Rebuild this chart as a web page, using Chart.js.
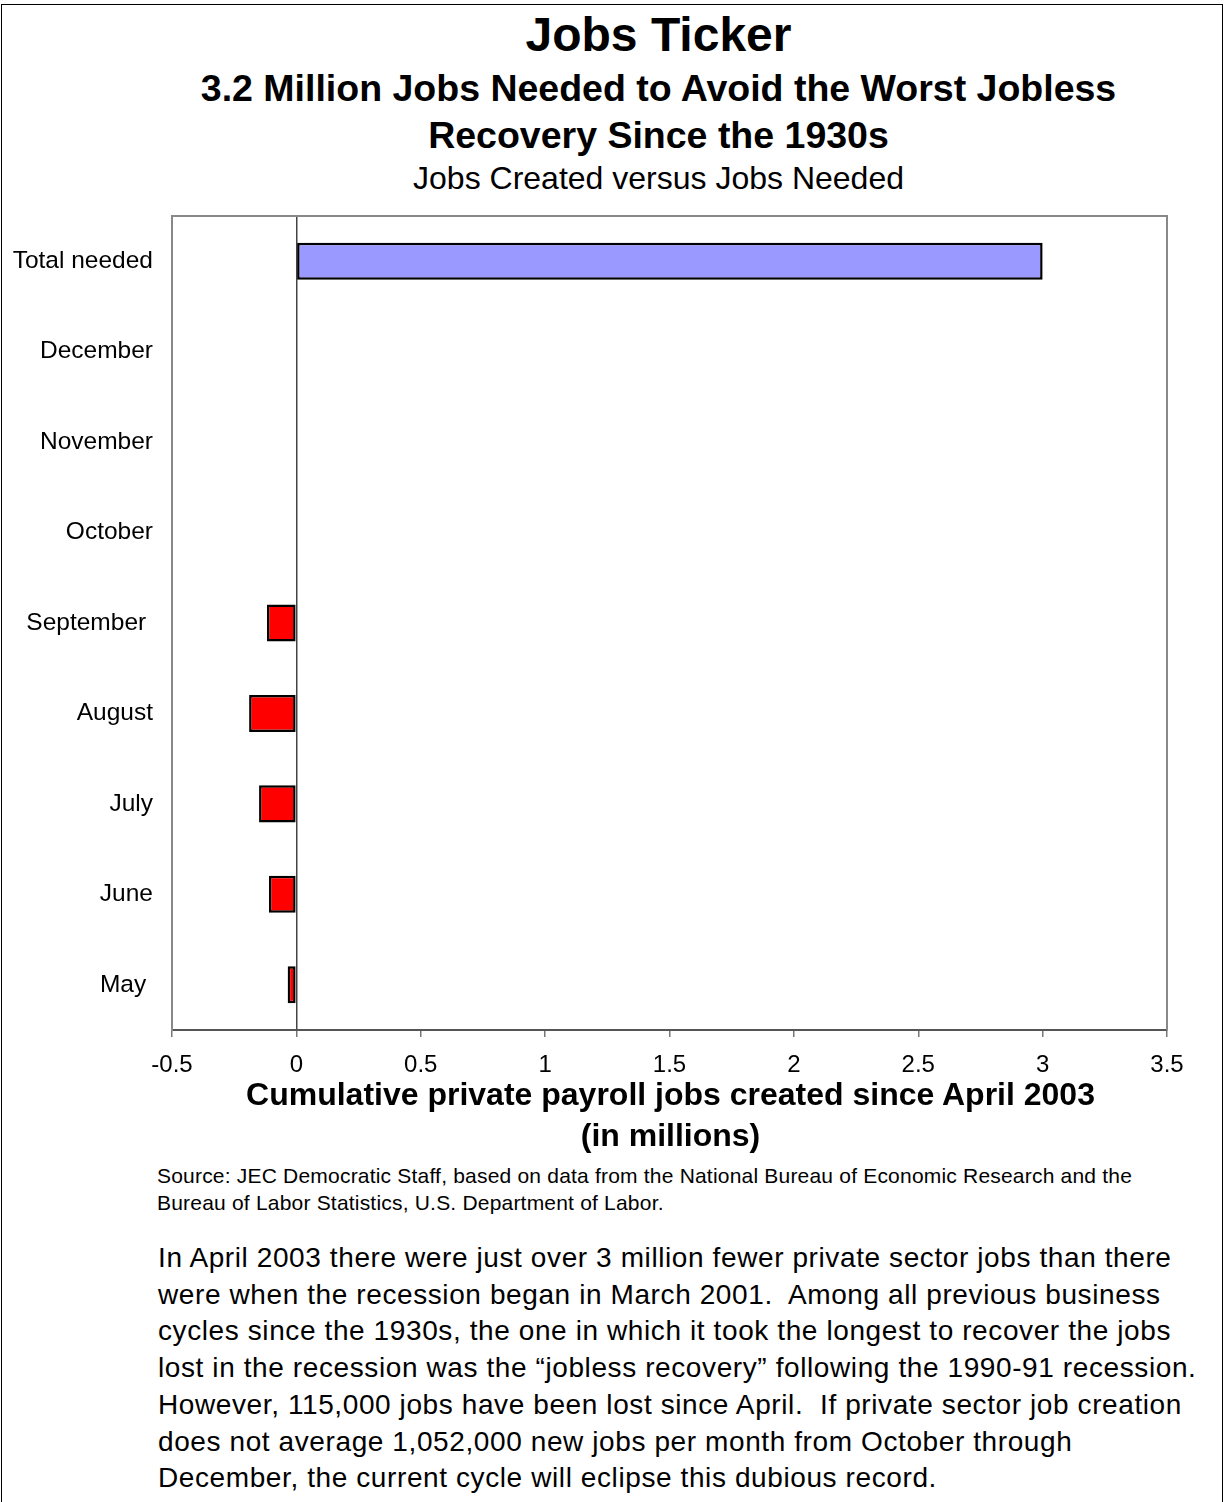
<!DOCTYPE html>
<html>
<head>
<meta charset="utf-8">
<script src="https://cdn.jsdelivr.net/npm/chart.js@4"></script>
<style>
body{margin:0;width:1225px;height:1502px;overflow:hidden;background:#fff;font-family:"Liberation Sans",Arial,sans-serif;color:#000;position:relative}
#frame{position:absolute;left:1px;top:4px;width:1222px;height:1520px;border:1px solid #000;box-sizing:border-box}
.t{position:absolute;left:0;width:1225px;text-align:center;white-space:nowrap}
#title{top:10px;font-size:48px;line-height:50px;font-weight:bold;left:46px;width:1225px}
#sub{top:65px;font-size:37.5px;line-height:47px;font-weight:bold;left:46px}
#sub2{top:158px;font-size:32px;line-height:40px;left:46px}
#xtitle{top:1074px;font-size:32px;line-height:41px;font-weight:bold;left:58px}
#source{position:absolute;left:157px;top:1162px;font-size:21px;line-height:27px;letter-spacing:0.2px;white-space:nowrap}
#para{position:absolute;left:158px;top:1240px;font-size:28px;line-height:36.7px;letter-spacing:0.6px;white-space:nowrap}
#chart{position:absolute;left:0;top:200px}
</style>
</head>
<body>
<div id="frame"></div>
<div class="t" id="title">Jobs Ticker</div>
<div class="t" id="sub">3.2 Million Jobs Needed to Avoid the Worst Jobless<br>Recovery Since the 1930s</div>
<div class="t" id="sub2">Jobs Created versus Jobs Needed</div>
<canvas id="chart" width="1225" height="880"></canvas>
<div class="t" id="xtitle">Cumulative private payroll jobs created since April 2003<br>(in millions)</div>
<div id="source">Source: JEC Democratic Staff, based on data from the National Bureau of Economic Research and the<br>Bureau of Labor Statistics, U.S. Department of Labor.</div>
<div id="para">In April 2003 there were just over 3 million fewer private sector jobs than there<br>were when the recession began in March 2001.&nbsp; Among all previous business<br>cycles since the 1930s, the one in which it took the longest to recover the jobs<br>lost in the recession was the “jobless recovery” following the 1990-91 recession.<br>However, 115,000 jobs have been lost since April.&nbsp; If private sector job creation<br>does not average 1,052,000 new jobs per month from October through<br>December, the current cycle will eclipse this dubious record.</div>
<script>
// categories top to bottom
const categories=["Total needed","December","November","October","September ","August","July","June","May "];
// millions of jobs
const totalNeeded=[3.0,null,null,null,null,null,null,null,null];
const jobsCreated=[null,null,null,null,-0.118,-0.19,-0.15,-0.11,-0.035];
const xTicks=[-0.5,0,0.5,1,1.5,2,2.5,3,3.5];

const plotBorder={
id:"plotBorder",
afterDraw(chart){
let a=chart.chartArea, c=chart.ctx;
c.save();
c.strokeStyle="#888";
c.lineWidth=2;
c.beginPath();
c.moveTo(a.left,a.top);
c.lineTo(a.right,a.top);
c.lineTo(a.right,a.bottom);
c.stroke();
c.restore();
}
};

Chart.defaults.font.family='"Liberation Sans", Arial, sans-serif';
Chart.defaults.color="#000";

new Chart(document.getElementById("chart"),{
type:"bar",
data:{
labels:categories,
datasets:[{
data:totalNeeded,
backgroundColor:"#9999FF",
borderColor:"#000",
borderWidth:2.5,
borderSkipped:false
},{
data:jobsCreated,
backgroundColor:"#FF0000",
borderColor:"#000",
borderWidth:2.5,
borderSkipped:false
}]
},
options:{
indexAxis:"y",
responsive:false,
animation:false,
barPercentage:0.41,
categoryPercentage:1,
layout:{padding:{top:16,right:58,left:0,bottom:0}},
plugins:{legend:{display:false},tooltip:{enabled:false}},
scales:{
x:{
stacked:true,
min:-0.5,
max:3.5,
afterBuildTicks:s=>{s.ticks=xTicks.map(v=>({value:v}));},
afterFit:s=>{s.height=50;s.paddingLeft=0;s.paddingRight=0;},
ticks:{font:{size:24},padding:14,callback:v=>String(v)},
grid:{
color:ctx=>ctx.tick && ctx.tick.value===0 ? "#444" : "rgba(0,0,0,0)",
lineWidth:1.5,
tickColor:"#777",
tickLength:7
},
border:{color:"#555",width:2}
},
y:{
stacked:true,
afterFit:s=>{s.width=172;s.paddingTop=0;s.paddingBottom=0;},
ticks:{font:{size:24.5},padding:11},
grid:{display:false},
border:{color:"#888",width:2}
}
}
},
plugins:[plotBorder]
});
</script>
</body>
</html>
